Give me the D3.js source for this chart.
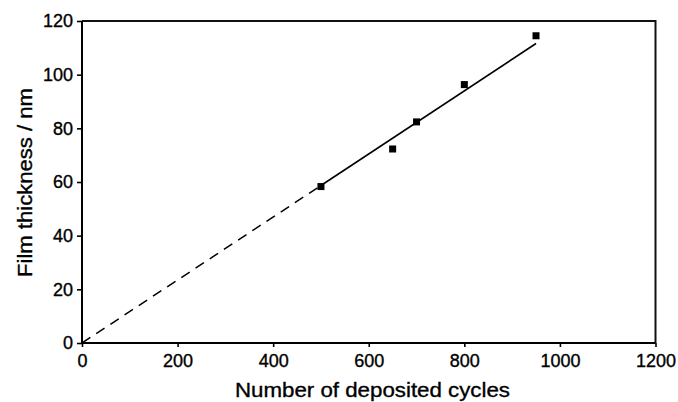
<!DOCTYPE html>
<html>
<head>
<meta charset="utf-8">
<script src="https://cdn.jsdelivr.net/npm/d3@7"></script>
<style>
  html, body { margin: 0; padding: 0; background: #fff; }
  svg { display: block; }
  text { font-family: "Liberation Sans", Arial, Helvetica, sans-serif; fill: #000; }
</style>
</head>
<body>
<svg id="chart" width="678" height="402"></svg>
<script>
// Data
const cycles = [500, 650, 700, 800, 950];
const thickness = [58.3, 72.3, 82.4, 96.3, 114.5];
// Linear fit: dashed extrapolation to origin, solid over data range
const fitDashedX = [0, 500];
const fitDashedY = [0, 58.7];
const fitSolidX = [500, 950];
const fitSolidY = [58.7, 111.6];
const xTicks = [0, 200, 400, 600, 800, 1000, 1200];
const yTicks = [0, 20, 40, 60, 80, 100, 120];
const xTitle = "Number of deposited cycles";
const yTitle = "Film thickness / nm";

const svg = d3.select("#chart");
const L = 82, R = 655.5, T = 21, B = 343;

const x = d3.scaleLinear().domain([0, 1200]).range([L, R]);
const y = d3.scaleLinear().domain([0, 120]).range([B, T]);

// Frame (top and right)
svg.append("path")
  .attr("d", `M${L},${T}H${R}V${B}`)
  .attr("fill", "none").attr("stroke", "#111").attr("stroke-width", 2);

// X axis
const xAxis = svg.append("g").attr("transform", `translate(0,${B})`)
  .call(d3.axisBottom(x).tickValues(xTicks).tickSize(4).tickPadding(7).tickFormat(d3.format("d")));
// Y axis
const yAxis = svg.append("g").attr("transform", `translate(${L},0)`)
  .call(d3.axisLeft(y).tickValues(yTicks).tickSize(5).tickPadding(4).tickFormat(d3.format("d")));

[xAxis, yAxis].forEach(g => {
  g.select(".domain").attr("stroke", "#000").attr("stroke-width", 2);
  g.selectAll(".tick line").attr("stroke", "#000").attr("stroke-width", 1.6);
  g.selectAll(".tick text").attr("font-size", 18).attr("fill", "#000")
    .attr("stroke", "#000").attr("stroke-width", 0.35)
    .attr("font-family", '"Liberation Sans", Arial, sans-serif');
});
xAxis.select(".domain").attr("d", `M${L},0H${R}`);
yAxis.select(".domain").attr("d", `M0,${B}V${T}`);

// Fit lines
const line = d3.line().x(d => x(d[0])).y(d => y(d[1]));
svg.append("path")
  .datum(fitDashedX.map((v, i) => [v, fitDashedY[i]]))
  .attr("d", line).attr("fill", "none").attr("stroke", "#000")
  .attr("stroke-width", 1.5).attr("stroke-dasharray", "10,7");
svg.append("path")
  .datum(fitSolidX.map((v, i) => [v, fitSolidY[i]]))
  .attr("d", line).attr("fill", "none").attr("stroke", "#000")
  .attr("stroke-width", 1.6);

// Markers
const s = 7;
svg.append("g").selectAll("rect")
  .data(cycles.map((c, i) => [c, thickness[i]]))
  .join("rect")
  .attr("x", d => x(d[0]) - s / 2)
  .attr("y", d => y(d[1]) - s / 2)
  .attr("width", s).attr("height", s)
  .attr("fill", "#000");

// Axis titles
svg.append("text")
  .attr("x", 372.5).attr("y", 396.5)
  .attr("text-anchor", "middle")
  .attr("font-size", 21)
  .attr("stroke", "#000").attr("stroke-width", 0.35)
  .attr("textLength", 275).attr("lengthAdjust", "spacingAndGlyphs")
  .text(xTitle);

svg.append("text")
  .attr("transform", "translate(32,182.5) rotate(-90)")
  .attr("text-anchor", "middle")
  .attr("font-size", 21)
  .attr("stroke", "#000").attr("stroke-width", 0.35)
  .attr("textLength", 189).attr("lengthAdjust", "spacingAndGlyphs")
  .text(yTitle);
</script>
</body>
</html>
